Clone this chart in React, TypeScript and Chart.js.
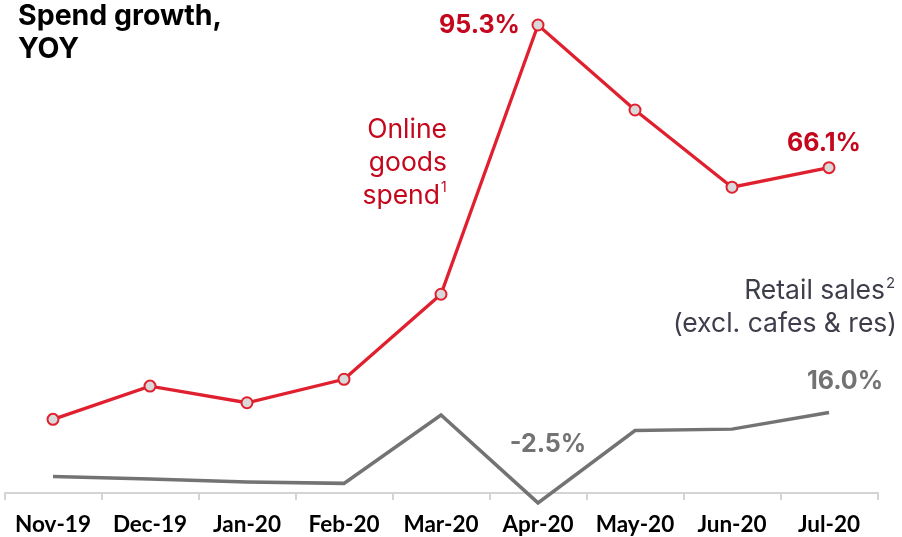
import React, { useEffect, useRef } from "react";
import { Chart, registerables } from "chart.js";

Chart.register(...registerables);

const categories = ["Nov-19", "Dec-19", "Jan-20", "Feb-20", "Mar-20", "Apr-20", "May-20", "Jun-20", "Jul-20"];
const onlineGoodsSpend = [14.6, 21.4, 18.0, 22.8, 40.2, 95.3, 77.9, 62.1, 66.1];
const retailSales = [2.9, 2.4, 1.8, 1.5, 15.5, -2.5, 12.3, 12.6, 16.0];
const titleLines = ["Spend growth,", "YOY"];
const onlineLabelLines = ["Online", "goods", "spend"];
const retailLabelLines = ["Retail sales", "(excl. cafes & res)"];

const RED = "#e0202e";
const RED_TEXT = "#c4071c";
const GREY = "#737373";
const LABEL_FONT = "Inter, 'Liberation Sans', sans-serif";

const labelsPlugin = {
  id: "customLabels",
  afterDraw(chart: any) {
    const ctx = chart.ctx as CanvasRenderingContext2D;
    const xs = chart.scales.x;
    const ys = chart.scales.y;
    const px = (i: number) => xs.getPixelForValue(i);
    const py = (v: number) => ys.getPixelForValue(v);
    ctx.save();
    ctx.textBaseline = "middle";

    // Title
    ctx.fillStyle = "#000";
    ctx.font = `bold 28.5px ${LABEL_FONT}`;
    ctx.textAlign = "left";
    ctx.fillText(titleLines[0], 18, 16);
    ctx.fillText(titleLines[1], 18, 49);

    // value labels
    const iApr = 5;
    const iJul = 8;
    const iMar = 4;
    ctx.font = `bold 25px ${LABEL_FONT}`;
    ctx.fillStyle = RED_TEXT;
    ctx.textAlign = "right";
    ctx.fillText(`${onlineGoodsSpend[iApr].toFixed(1)}%`, px(iApr) - 18, py(onlineGoodsSpend[iApr]) + 1);
    ctx.textAlign = "center";
    ctx.fillText(`${onlineGoodsSpend[iJul].toFixed(1)}%`, px(iJul) - 5, py(onlineGoodsSpend[iJul]) - 24);

    ctx.fillStyle = GREY;
    ctx.fillText(`${retailSales[iJul].toFixed(1)}%`, px(iJul) + 16, py(retailSales[iJul]) - 31);
    ctx.fillText(`${retailSales[iApr].toFixed(1)}%`, px(iApr) + 10, py(retailSales[iApr]) - 58);

    // Series name labels
    ctx.font = `26.5px ${LABEL_FONT}`;
    ctx.fillStyle = RED_TEXT;
    ctx.textAlign = "right";
    const onlineRight = px(iMar) + 6;
    const onlineY0 = py(onlineGoodsSpend[iMar]) - 164;
    ctx.fillText(onlineLabelLines[0], onlineRight, onlineY0);
    ctx.fillText(onlineLabelLines[1], onlineRight, onlineY0 + 33);
    ctx.fillText(onlineLabelLines[2], onlineRight - 7, onlineY0 + 66);
    ctx.font = `14px ${LABEL_FONT}`;
    ctx.textAlign = "left";
    ctx.fillText("1", onlineRight - 6, onlineY0 + 58);

    ctx.fillStyle = "#3d3d4b";
    ctx.font = `26.5px ${LABEL_FONT}`;
    ctx.textAlign = "right";
    const rx = chart.width - 5;
    ctx.fillText(retailLabelLines[0], rx - 12, 291);
    ctx.fillText(retailLabelLines[1], rx, 324);
    ctx.font = `15px ${LABEL_FONT}`;
    ctx.textAlign = "left";
    ctx.fillText("2", rx - 11, 283);
    ctx.restore();
  },
};

export default function App() {
  const canvasRef = useRef<HTMLCanvasElement | null>(null);

  useEffect(() => {
    if (!canvasRef.current) return;
    const pxPerUnit = 4.887;
    const yMin = -0.47;
    const yMax = yMin + 493 / pxPerUnit;
    const chart = new Chart(canvasRef.current, {
      type: "line",
      data: {
        labels: categories,
        datasets: [
          {
            label: "Retail sales",
            data: retailSales,
            borderColor: GREY,
            borderWidth: 3.5,
            pointRadius: 0,
            tension: 0,
            clip: false as any,
          },
          {
            label: "Online goods spend",
            data: onlineGoodsSpend,
            borderColor: RED,
            borderWidth: 3.3,
            pointRadius: 5.5,
            pointBorderWidth: 2,
            pointBackgroundColor: "#d9d9d9",
            pointBorderColor: RED,
            tension: 0,
            clip: false as any,
          },
        ],
      },
      options: {
        responsive: false,
        animation: false,
        layout: { autoPadding: false, padding: { left: 4.5, right: 24.5, top: 0, bottom: 0 } },
        plugins: { legend: { display: false }, tooltip: { enabled: false }, title: { display: false } },
        scales: {
          x: {
            offset: true,
            grid: {
              offset: true,
              drawOnChartArea: false,
              drawTicks: true,
              tickLength: 7,
              color: "#d4d4d4",
              lineWidth: 2,
            },
            border: { display: true, color: "#d4d4d4", width: 2 },
            ticks: {
              color: "#000",
              font: { family: "Lato, 'Liberation Sans', sans-serif", size: 22.5, weight: "bold" },
              padding: 11,
              maxRotation: 0,
              autoSkip: false,
            },
            afterFit: (scale: any) => {
              scale.height = 44;
            },
          },
          y: {
            display: false,
            min: yMin,
            max: yMax,
          },
        },
      },
      plugins: [labelsPlugin],
    });
    return () => chart.destroy();
  }, []);

  return (
    <div style={{ position: "fixed", left: 0, top: 0, width: 902, height: 537, background: "#fff" }}>
      <canvas ref={canvasRef} width={902} height={537} style={{ width: 902, height: 537, display: "block" }} />
    </div>
  );
}
